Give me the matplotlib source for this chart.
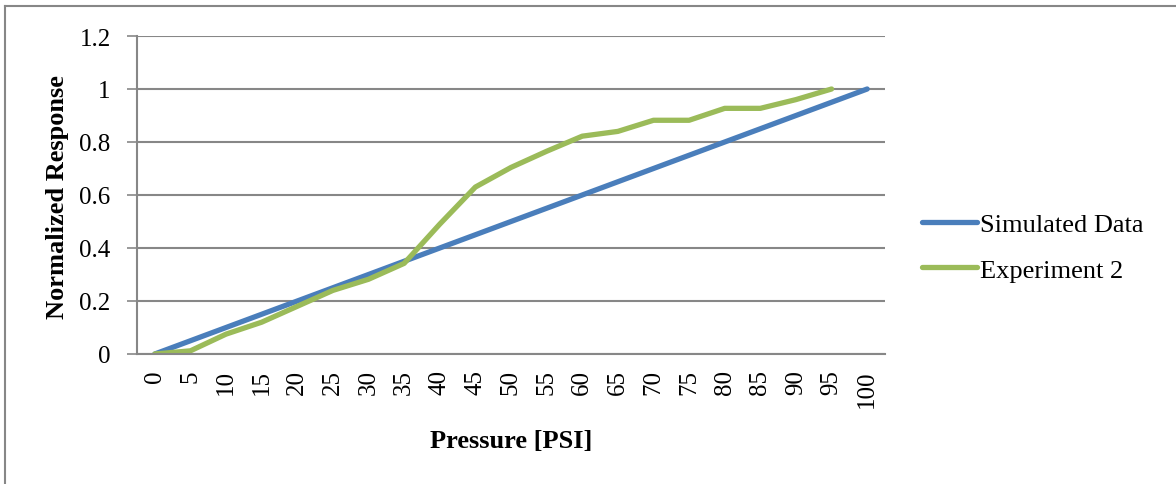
import matplotlib
matplotlib.use("Agg")
import matplotlib.pyplot as plt
from matplotlib.lines import Line2D

# pressure categories (PSI)
pressure = [0, 5, 10, 15, 20, 25, 30, 35, 40, 45, 50,
            55, 60, 65, 70, 75, 80, 85, 90, 95, 100]
simulated = [0.0, 0.05, 0.10, 0.15, 0.20, 0.25, 0.30, 0.35, 0.40, 0.45, 0.50,
             0.55, 0.60, 0.65, 0.70, 0.75, 0.80, 0.85, 0.90, 0.95, 1.0]
experiment2 = [0.0, 0.012, 0.075, 0.12, 0.18, 0.24, 0.282, 0.342, 0.49, 0.63,
               0.704, 0.765, 0.822, 0.84, 0.882, 0.882, 0.927, 0.927, 0.96, 1.0]
y_ticks = [0, 0.2, 0.4, 0.6, 0.8, 1, 1.2]
y_labels = ["0", "0.2", "0.4", "0.6", "0.8", "1", "1.2"]

plt.rcParams['font.family'] = ['Liberation Serif', 'DejaVu Serif']

fig = plt.figure(figsize=(11.76, 4.85), dpi=100)
ax = fig.add_axes([137 / 1176, 1 - 355 / 485, (885 - 137) / 1176, (355 - 37) / 485])

idx = list(range(len(pressure)))
ax.plot(idx, simulated, color="#4A7EBB", lw=3.8, solid_capstyle="round",
        label="Simulated Data")
ax.plot(idx[:len(experiment2)], experiment2, color="#9BBB59", lw=3.8,
        solid_capstyle="round", label="Experiment 2")

ax.set_xlim(-0.5, len(pressure) - 0.5)
ax.set_ylim(0, 1.2)
ax.set_xticks(idx)
ax.set_xticklabels([str(p) for p in pressure], rotation=90, fontsize=18)
ax.tick_params(axis="x", length=0, pad=11)
ax.set_yticks(y_ticks)
ax.set_yticklabels(y_labels, fontsize=18)
ax.tick_params(axis="y", length=7, width=1.2, color="#878787", pad=12)

ax.grid(axis="y", color="#878787", lw=1.5)
ax.set_axisbelow(True)
for s in ["top", "right"]:
    ax.spines[s].set_visible(False)
for s in ["left", "bottom"]:
    ax.spines[s].set_color("#878787")
    ax.spines[s].set_linewidth(1.5)

ax.set_xlabel("Pressure [PSI]", fontsize=19, fontweight="bold")
ax.xaxis.set_label_coords((511 - 137) / (885 - 137), -(430 - 355) / (355 - 37))
ax.set_ylabel("Normalized Response", fontsize=19, fontweight="bold")
ax.yaxis.set_label_coords(-(137 - 69) / (885 - 137), (355 - 197) / (355 - 37))

fig.legend(loc="center left", bbox_to_anchor=(922 / 1176, 1 - 248 / 485),
           frameon=False, fontsize=19, handlelength=2.1, handletextpad=0.1,
           labelspacing=0.85, borderpad=0, borderaxespad=0)

# outer chart border (top and left visible)
fig.add_artist(Line2D([5 / 1176, 5 / 1176], [0, 1 - 7 / 485],
                      color="#878787", lw=1.5, transform=fig.transFigure))
fig.add_artist(Line2D([5 / 1176, 1], [1 - 7 / 485, 1 - 7 / 485],
                      color="#878787", lw=1.5, transform=fig.transFigure))

fig.savefig("out.png", dpi=100)
